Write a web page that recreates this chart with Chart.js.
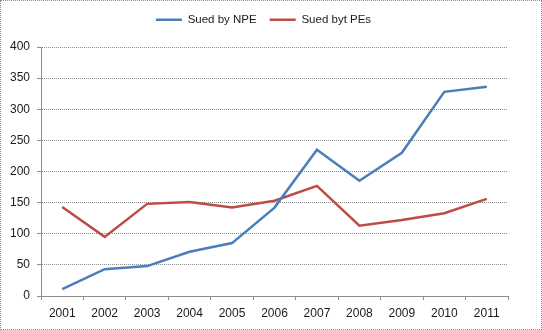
<!DOCTYPE html>
<html>
<head>
<meta charset="utf-8">
<script src="https://cdn.jsdelivr.net/npm/chart.js@4"></script>
<style>
  html, body { margin: 0; padding: 0; background: #fff; }
  #wrap { width: 542px; height: 330px; box-sizing: border-box; border: 1px dotted #8c8c8c; }
  canvas { display: block; }
</style>
</head>
<body>
<div id="wrap"><canvas id="c" width="540" height="328"></canvas></div>
<script>
const years = ['2001','2002','2003','2004','2005','2006','2007','2008','2009','2010','2011'];
const suedByNPE = [11, 43, 48, 71, 85, 142, 235, 185, 230, 328, 336];
const suedByPEs = [143, 95, 148, 151, 142, 153, 177, 113, 122, 133, 156];
const yTicks = [0, 50, 100, 150, 200, 250, 300, 350, 400];

const FONT = 'Liberation Sans, Arial, sans-serif';

const legendFix = {
  id: 'legendFix',
  beforeLayout(chart) {
    const lg = chart.legend;
    if (lg && !lg._patched) {
      const orig = lg.fit;
      lg.fit = function () { orig.call(this); this.height = 46; };
      lg._patched = true;
    }
  },
  afterLayout(chart) {
    const lg = chart.legend;
    if (lg) { lg.left = 18; }
  }
};

new Chart(document.getElementById('c'), {
  type: 'line',
  data: {
    labels: years,
    datasets: [
      { label: 'Sued by NPE', data: suedByNPE, borderColor: '#4a7ebb', backgroundColor: '#4a7ebb',
        borderWidth: 2.5, pointRadius: 0, tension: 0 },
      { label: 'Sued byt PEs', data: suedByPEs, borderColor: '#be4b48', backgroundColor: '#be4b48',
        borderWidth: 2.5, pointRadius: 0, tension: 0 }
    ]
  },
  options: {
    responsive: false,
    animation: false,
    layout: { padding: { top: 0, right: 33, left: 0, bottom: 0 } },
    plugins: {
      legend: {
        position: 'top',
        labels: {
          usePointStyle: true,
          pointStyle: 'line',
          pointStyleWidth: 26,
          padding: 13,
          color: '#1a1a1a',
          font: { family: FONT, size: 11.5 }
        }
      },
      tooltip: { enabled: false }
    },
    scales: {
      x: {
        offset: true,
        grid: { display: true, drawOnChartArea: false, drawTicks: true, tickLength: 4, offset: true, color: '#8c8c8c' },
        border: { display: true, color: '#8c8c8c', dash: [1, 1] },
        ticks: { color: '#1a1a1a', font: { family: FONT, size: 12 }, padding: 6, maxRotation: 0, autoSkip: false },
        afterFit(s) { s.height = 33; }
      },
      y: {
        min: 0, max: 400,
        afterBuildTicks(s) { s.ticks = yTicks.map(v => ({ value: v })); },
        grid: { color: '#8c8c8c', tickLength: 4 },
        border: { display: true, color: '#8c8c8c', dash: [1, 1] },
        ticks: { color: '#1a1a1a', font: { family: FONT, size: 12 }, padding: 7 },
        afterFit(s) { s.width = 40; }
      }
    }
  },
  plugins: [legendFix]
});
</script>
</body>
</html>
